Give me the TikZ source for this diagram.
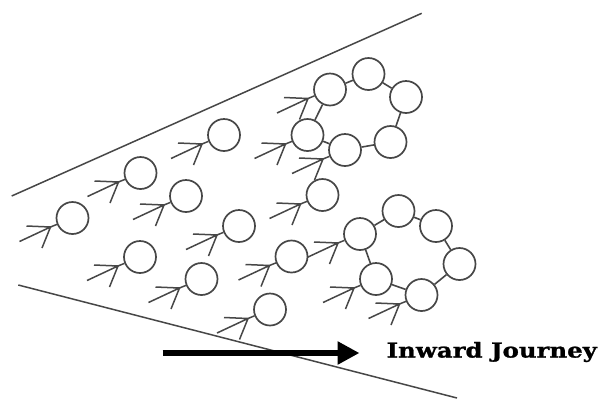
\documentclass[tikz,border=0pt]{standalone}
\usepackage{fontspec}
\usetikzlibrary{calc,arrows.meta}
\newfontfamily\labelfont[FakeStretch=1.19,FakeBold=1.2]{DejaVu Serif}

% a round cell
\newcommand\spermcell[3]{\node[cellc] (#1) at (#2,#3) {};}
% the open, arrow-like tail on the lower left of a cell
\newcommand\spermtail[1]{%
  \coordinate (#1t) at ($(#1)+(-22,9)$);
  \draw[tailline] (#1) -- (#1t)
    (#1t) -- ++(-24,-1)
    (#1t) -- ++(-31,14.5)
    (#1t) -- ++(-8.5,21);}

\begin{document}
\begin{tikzpicture}[x=1pt,y=-1pt,
  cellc/.style={draw=black!72,line width=1.7pt,circle,minimum size=32pt,inner sep=0pt,fill=white},
  tailline/.style={draw=black!72,line width=1.5pt},
  ringlink/.style={draw=black!72,line width=1.6pt},
  wall/.style={draw=black!72,line width=1.5pt},
  journey/.style={line width=6pt,-{Triangle[length=22pt,width=22pt]}}]
\useasboundingbox (0,0) rectangle (601,400);
\fill[white] (0,0) rectangle (601,400);

% funnel walls
\coordinate (w1a) at (11.7,196);
\coordinate (w1b) at (421.7,13.3);
\coordinate (w2a) at (18.3,285);
\coordinate (w2b) at (457,398);
\draw[wall] (w1a) -- (w1b);
\draw[wall] (w2a) -- (w2b);

% single cells
\spermcell{s1}{72.5}{218}
\spermcell{s2}{140.5}{173}
\spermcell{s3}{140}{257}
\spermcell{s4}{186}{196}
\spermcell{s5}{224}{135}
\spermcell{s6}{239}{226}
\spermcell{s7}{201.5}{279}
\spermcell{s8}{270}{309.5}
\spermcell{s9}{322.5}{195}
\spermcell{s10}{291.5}{256.5}

% upper ring
\spermcell{u1}{307.5}{135}
\spermcell{u2}{330}{89.5}
\spermcell{u3}{368.5}{74}
\spermcell{u4}{406}{97}
\spermcell{u5}{390.5}{142}
\spermcell{u6}{345}{150}

% lower ring
\spermcell{l1}{360}{234}
\spermcell{l2}{398.5}{211}
\spermcell{l3}{436}{226}
\spermcell{l4}{459.5}{264}
\spermcell{l5}{421.5}{295}
\spermcell{l6}{376}{279}

\draw[ringlink] (u1) -- (u2) (u2) -- (u3) (u3) -- (u4) (u4) -- (u5) (u5) -- (u6) (u6) -- (u1);
\draw[ringlink] (l1) -- (l2) (l2) -- (l3) (l3) -- (l4) (l4) -- (l5) (l5) -- (l6) (l6) -- (l1);

% tails
\foreach \c in {s1,s2,s3,s4,s5,s6,s7,s8,s9,s10,u1,u2,u6,l1,l5,l6}{\spermtail{\c}}

% direction of travel
\coordinate (ja) at (162.7,353);
\coordinate (jb) at (359.5,353);
\draw[journey] (ja) -- (jb);
\node[anchor=west,inner sep=0pt,font=\labelfont\bfseries\fontsize{20.5}{24}\selectfont] (lab) at (386.5,352) {Inward Journey};
\end{tikzpicture}
\end{document}
